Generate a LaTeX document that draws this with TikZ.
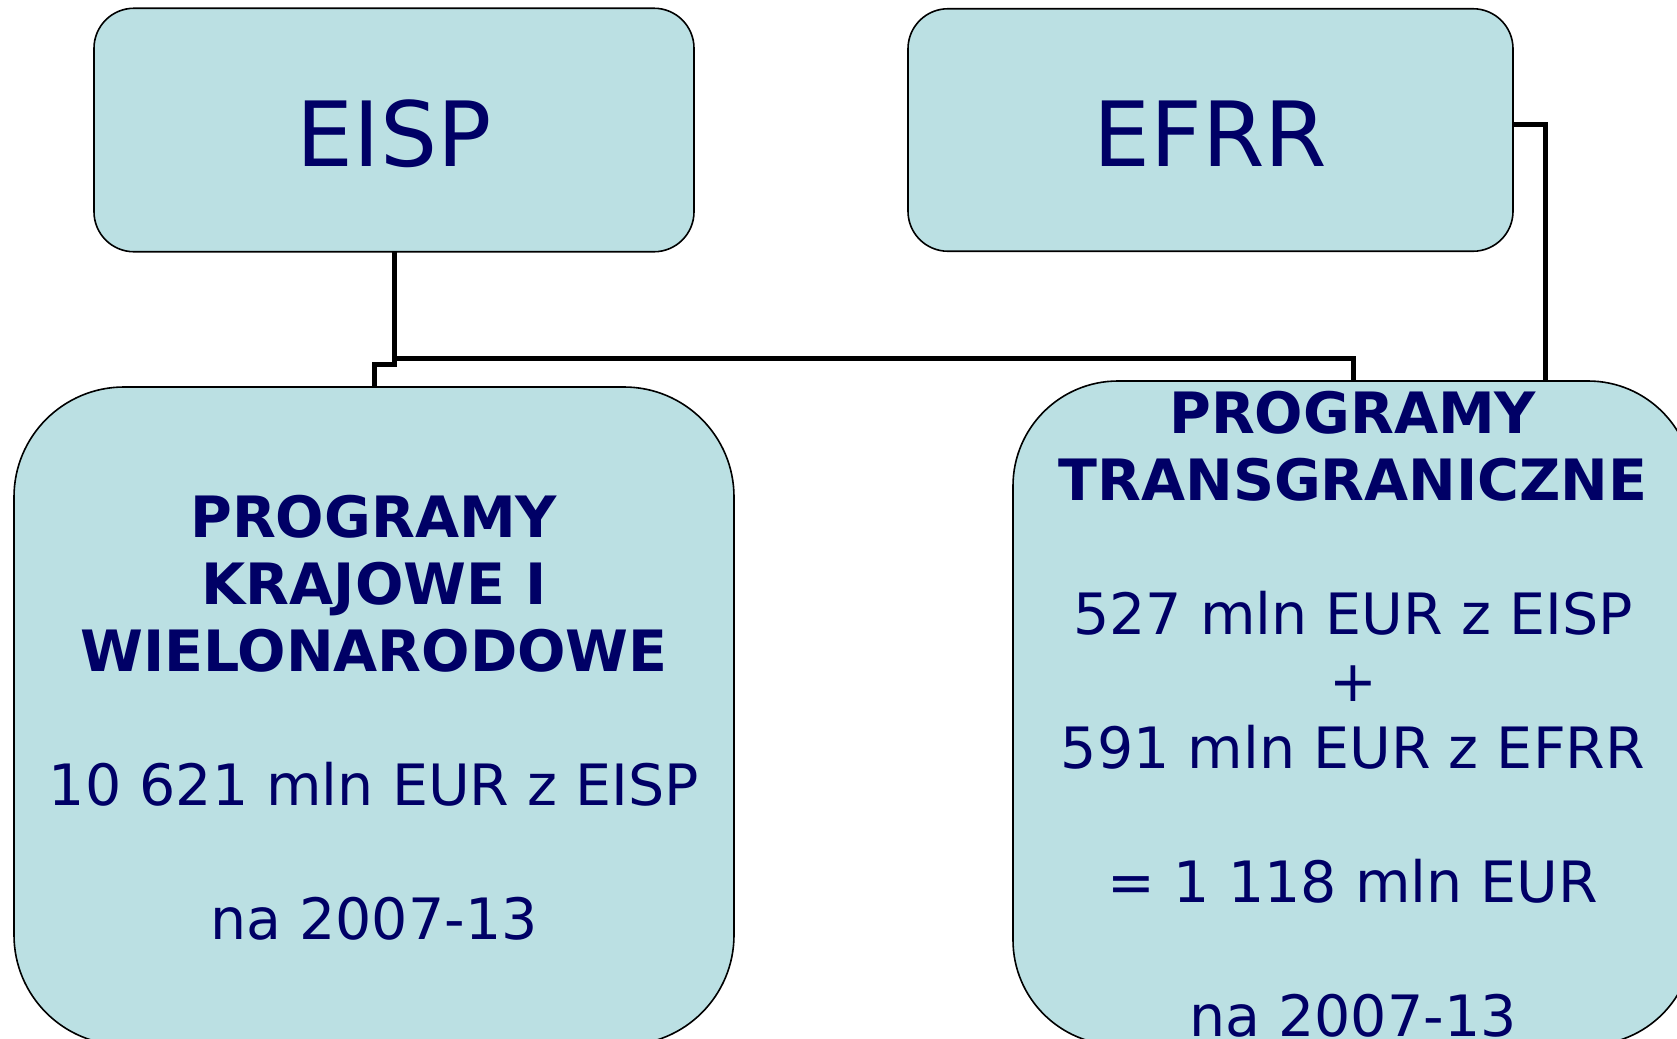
\documentclass[tikz,border=0pt]{standalone}
\usepackage{fontspec}
\setmainfont{DejaVu Sans}
\definecolor{boxfill}{RGB}{187,224,227}
\definecolor{navy}{RGB}{0,0,102}
\begin{document}
\begin{tikzpicture}[x=0.5pt,y=-0.5pt,
  topbox/.style={draw=black,line width=0.8pt,fill=boxfill,rounded corners=20pt,inner sep=0pt,outer sep=0pt},
  bigbox/.style={draw=black,line width=0.8pt,fill=boxfill,inner sep=0pt,outer sep=0pt},
  toptext/.style={text=navy,font=\fontsize{45pt}{54pt}\selectfont,inner sep=0pt},
  boxtext/.style={text=navy,align=center,font=\fontsize{28.5pt}{33.5pt}\selectfont,inner sep=0pt},
  conn/.style={draw=black,line width=2.5pt,line join=miter}]
\useasboundingbox[fill=white] (0,0) rectangle (1677,1039);
% boxes
\node[topbox,minimum width=300pt,minimum height=121.75pt] (EISP) at (394,130) {};
\node[topbox,minimum width=302.5pt,minimum height=121.25pt] (EFRR) at (1210.5,130) {};
\node[bigbox,rounded corners=55pt,minimum width=360pt,minimum height=329pt] (PK) at (374,716) {};
\node[bigbox,rounded corners=52.5pt,minimum width=340pt,minimum height=332pt] (PT) at (1353,713) {};
% connectors
\coordinate (ctop) at (394,358);
\coordinate (cright) at (1545,0);
\draw[conn] (EISP.south) |- ([yshift=11.5pt]PK.north) -- (PK.north);
\draw[conn] (ctop) -| (PT.north);
\draw[conn] ([yshift=3pt]EFRR.east) -| (cright |- PT.north);
% texts
\node[toptext] (tEISP) at (394,134) {EISP};
\node[toptext] (tEFRR) at (1210.5,134) {EFRR};
\node[boxtext] (tPK) at (374,718) {\textbf{PROGRAMY}\\\textbf{KRAJOWE I}\\\textbf{WIELONARODOWE}\\[33.5pt]10 621 mln EUR z EISP\\[33.5pt]na 2007-13};
\node[boxtext] (tPT) at (1353,714) {\textbf{PROGRAMY}\\\textbf{TRANSGRANICZNE}\\[33.5pt]527 mln EUR z EISP\\+\\591 mln EUR z EFRR\\[33.5pt]= 1 118 mln EUR\\[33.5pt]na 2007-13};
\end{tikzpicture}
\end{document}
